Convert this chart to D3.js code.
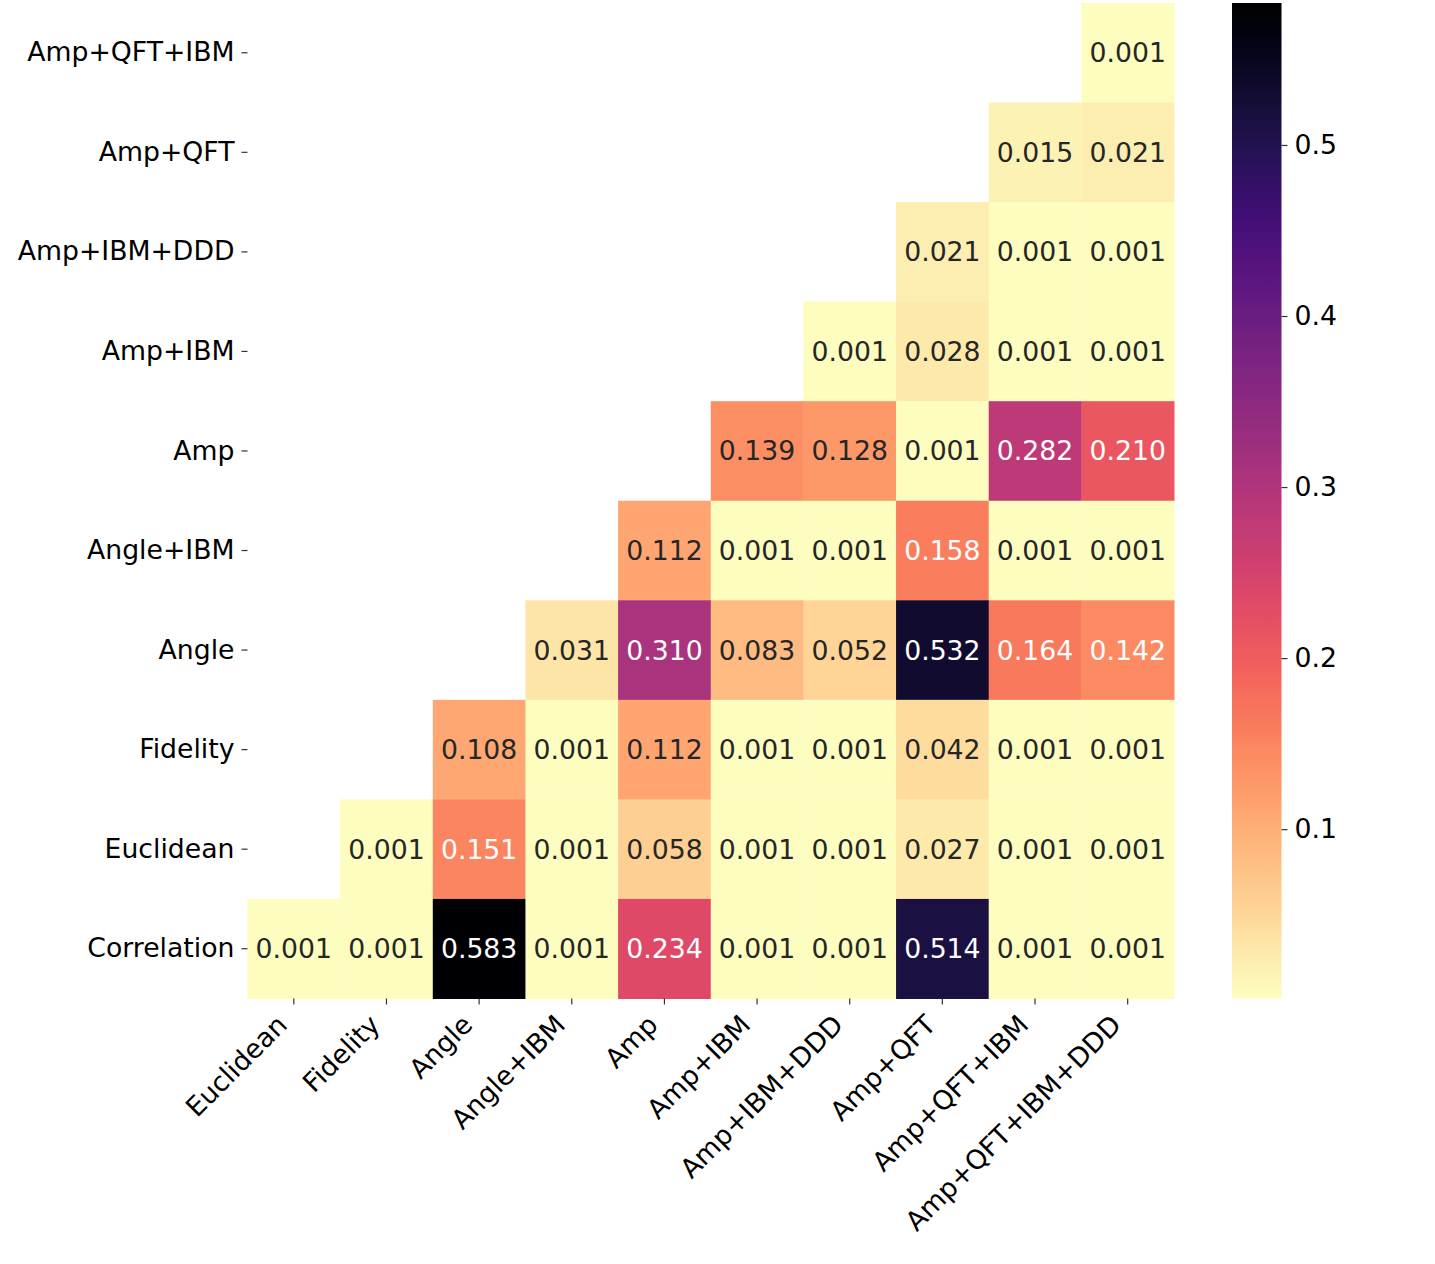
<!DOCTYPE html>
<html>
<head>
<meta charset="utf-8">
<script src="https://cdn.jsdelivr.net/npm/d3@7"></script>
<style>
  html, body { margin: 0; padding: 0; background: #fff; }
  svg { display: block; font-family: "DejaVu Sans", sans-serif; }
</style>
</head>
<body>
<svg id="chart" width="1435" height="1264"></svg>
<script>
// ---- data ----
const columns = ["Euclidean", "Fidelity", "Angle", "Angle+IBM", "Amp", "Amp+IBM", "Amp+IBM+DDD", "Amp+QFT", "Amp+QFT+IBM", "Amp+QFT+IBM+DDD"];
const rows = ["Amp+QFT+IBM", "Amp+QFT", "Amp+IBM+DDD", "Amp+IBM", "Amp", "Angle+IBM", "Angle", "Fidelity", "Euclidean", "Correlation"];
// null = masked cell
const rowAmpQftIbm  = [null, null, null, null, null, null, null, null, null, 0.001];
const rowAmpQft     = [null, null, null, null, null, null, null, null, 0.015, 0.021];
const rowAmpIbmDdd  = [null, null, null, null, null, null, null, 0.021, 0.001, 0.001];
const rowAmpIbm     = [null, null, null, null, null, null, 0.001, 0.028, 0.001, 0.001];
const rowAmp        = [null, null, null, null, null, 0.139, 0.128, 0.001, 0.282, 0.210];
const rowAngleIbm   = [null, null, null, null, 0.112, 0.001, 0.001, 0.158, 0.001, 0.001];
const rowAngle      = [null, null, null, 0.031, 0.310, 0.083, 0.052, 0.532, 0.164, 0.142];
const rowFidelity   = [null, null, 0.108, 0.001, 0.112, 0.001, 0.001, 0.042, 0.001, 0.001];
const rowEuclidean  = [null, 0.001, 0.151, 0.001, 0.058, 0.001, 0.001, 0.027, 0.001, 0.001];
const rowCorrelation= [0.001, 0.001, 0.583, 0.001, 0.234, 0.001, 0.001, 0.514, 0.001, 0.001];
const values = [rowAmpQftIbm, rowAmpQft, rowAmpIbmDdd, rowAmpIbm, rowAmp, rowAngleIbm, rowAngle, rowFidelity, rowEuclidean, rowCorrelation];
const cbTicks = [0.1, 0.2, 0.3, 0.4, 0.5];

// ---- layout ----
const svg = d3.select("#chart");
const plot = { left: 247.5, right: 1174, top: 3, bottom: 998.5 };
const cb = { left: 1232, right: 1281.5, top: 3, bottom: 998.5 };
const fontSize = 26.7;

const all = values.flat().filter(v => v !== null);
const vmin = d3.min(all), vmax = d3.max(all);

const x = d3.scaleBand().domain(columns).range([plot.left, plot.right]).padding(0);
const y = d3.scaleBand().domain(rows).range([plot.top, plot.bottom]).padding(0);
const norm = d3.scaleLinear().domain([vmin, vmax]).range([0, 1]).clamp(true);
const color = v => d3.interpolateMagma(1 - norm(v));

function luminance(c) {
  const rgb = d3.rgb(c);
  const lin = [rgb.r, rgb.g, rgb.b].map(v => {
    v = v / 255;
    return v <= 0.03928 ? v / 12.92 : Math.pow((v + 0.055) / 1.055, 2.4);
  });
  return 0.2126 * lin[0] + 0.7152 * lin[1] + 0.0722 * lin[2];
}

const cells = [];
values.forEach((row, i) => row.forEach((v, j) => {
  if (v !== null) cells.push({ r: rows[i], c: columns[j], v });
}));

const g = svg.append("g");
g.selectAll("rect.cell").data(cells).join("rect")
  .attr("class", "cell")
  .attr("x", d => x(d.c))
  .attr("y", d => y(d.r))
  .attr("width", x.bandwidth() + 0.5)
  .attr("height", y.bandwidth() + 0.5)
  .attr("fill", d => color(d.v));

g.selectAll("text.ann").data(cells).join("text")
  .attr("class", "ann")
  .attr("x", d => x(d.c) + x.bandwidth() / 2)
  .attr("y", d => y(d.r) + y.bandwidth() / 2)
  .attr("text-anchor", "middle")
  .attr("dominant-baseline", "central")
  .attr("font-size", fontSize)
  .attr("fill", d => luminance(color(d.v)) > 0.408 ? "#262626" : "#ffffff")
  .text(d => d.v.toFixed(3));

// ---- axes ----
const xAxis = d3.axisBottom(x).tickSize(6).tickPadding(4);
const xg = svg.append("g").attr("transform", `translate(0,${plot.bottom})`).call(xAxis);
xg.select(".domain").remove();
xg.selectAll(".tick line").attr("stroke", "#333").attr("stroke-width", 1.2);
xg.selectAll(".tick text")
  .attr("font-size", fontSize)
  .attr("font-family", "DejaVu Sans, sans-serif")
  .attr("fill", "#000")
  .attr("text-anchor", "end")
  .attr("dy", null)
  .attr("y", null)
  .attr("transform", "translate(-5,28) rotate(-45)");

const yAxis = d3.axisLeft(y).tickSize(6).tickPadding(7);
const yg = svg.append("g").attr("transform", `translate(${plot.left},0)`).call(yAxis);
yg.select(".domain").remove();
yg.selectAll(".tick line").attr("stroke", "#333").attr("stroke-width", 1.2);
yg.selectAll(".tick text")
  .attr("font-size", fontSize)
  .attr("font-family", "DejaVu Sans, sans-serif")
  .attr("fill", "#000");

// ---- colorbar ----
const defs = svg.append("defs");
const grad = defs.append("linearGradient").attr("id", "cbgrad")
  .attr("x1", 0).attr("y1", 1).attr("x2", 0).attr("y2", 0);
d3.range(0, 101).forEach(i => {
  const t = i / 100;
  grad.append("stop").attr("offset", t).attr("stop-color", d3.interpolateMagma(1 - t));
});
svg.append("rect")
  .attr("x", cb.left).attr("y", cb.top)
  .attr("width", cb.right - cb.left).attr("height", cb.bottom - cb.top)
  .attr("fill", "url(#cbgrad)");

const cbScale = d3.scaleLinear().domain([vmin, vmax]).range([cb.bottom, cb.top]);
const cbAxis = d3.axisRight(cbScale).tickValues(cbTicks).tickFormat(d3.format(".1f")).tickSize(6).tickPadding(7);
const cg = svg.append("g").attr("transform", `translate(${cb.right},0)`).call(cbAxis);
cg.select(".domain").remove();
cg.selectAll(".tick line").attr("stroke", "#333").attr("stroke-width", 1.2);
cg.selectAll(".tick text")
  .attr("font-size", fontSize)
  .attr("font-family", "DejaVu Sans, sans-serif")
  .attr("fill", "#000");
</script>
</body>
</html>
